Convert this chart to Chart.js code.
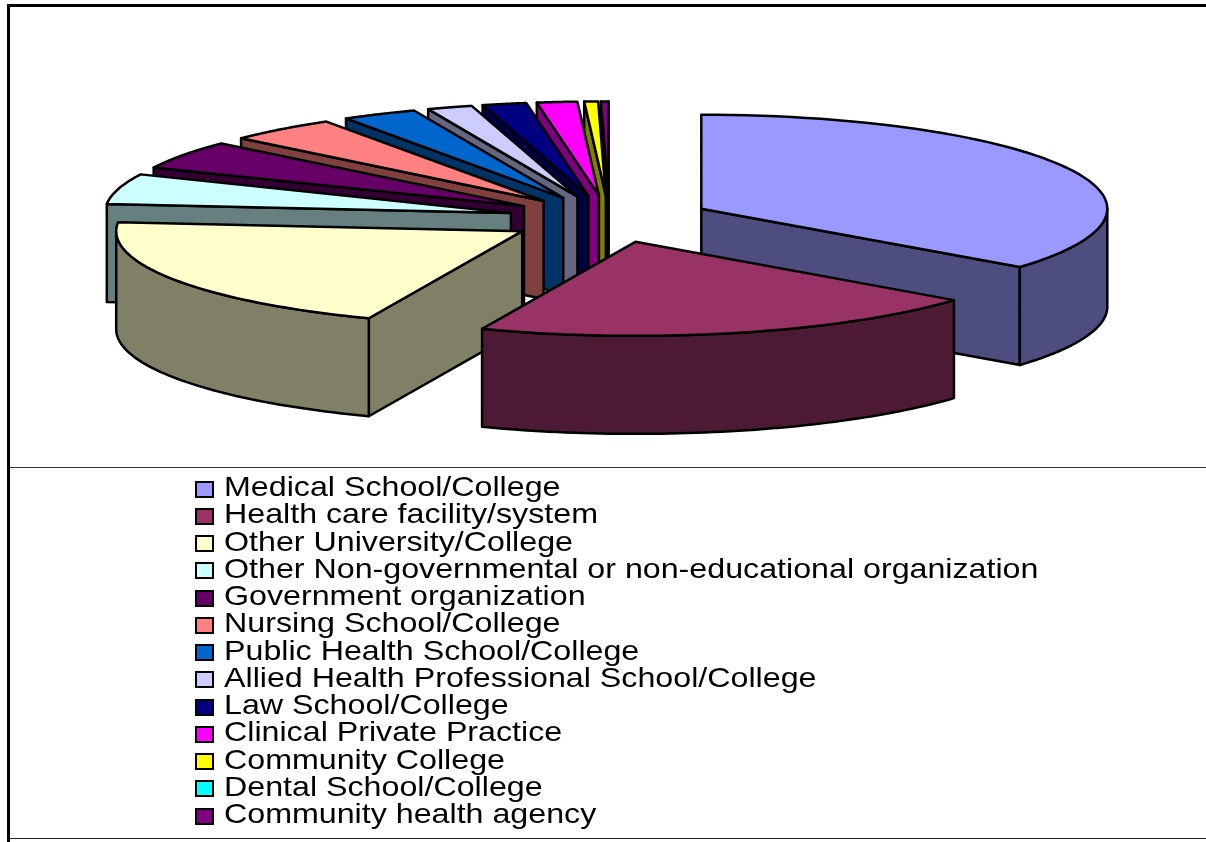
<!DOCTYPE html>
<html lang="en">
<head>
<meta charset="UTF-8">
<title>Organization types</title>
<script src="https://cdn.jsdelivr.net/npm/chart.js"></script>
<style>
    html,body{margin:0;background:#fff;overflow:hidden}
    #wrap{position:relative;width:1206px;height:842px}
    #pie{position:absolute;left:0;top:0}
    .rule{position:absolute;background:#000}
    #ruleLeft{left:7px;top:4px;width:3px;height:838px}
    #ruleTop{left:7px;top:4px;width:1199px;height:3px}
    #ruleMid{left:10px;top:467px;width:1196px;height:1px;background:#333}
    #ruleBottom{left:10px;top:838px;width:1196px;height:1px;background:#222}
    #legend{position:absolute;left:195px;top:475.5px;font-family:"Liberation Sans",Arial,sans-serif;font-size:28px;color:#000}
    .row{display:flex;align-items:center;height:27.25px;white-space:nowrap}
    .box{width:15px;height:13px;border:2px solid #000;flex:none}
    .row span{margin-left:10px;display:inline-block;transform:scaleX(1.15);transform-origin:left center;position:relative;top:-2px}
</style>
</head>
<body>
<div id="wrap">
    <canvas id="pie" width="1206" height="842"></canvas>
    <div class="rule" id="ruleLeft"></div>
    <div class="rule" id="ruleTop"></div>
    <div class="rule" id="ruleMid"></div>
    <div class="rule" id="ruleBottom"></div>
    <div id="legend"></div>
</div>
<script>
    const labels=["Medical School/College","Health care facility/system","Other University/College","Other Non-governmental or non-educational organization","Government organization","Nursing School/College","Public Health School/College","Allied Health Professional School/College","Law School/College","Clinical Private Practice","Community College","Dental School/College","Community health agency"]
    const shares=[35.7,20.55,20.4,5.2,4.9,4.4,3.0,1.8,1.75,1.6,0.55,0,0.3]
    const colors=["#9999FF","#993366","#FFFFCC","#CCFFFF","#660066","#FF8080","#0066CC","#CCCCFF","#000080","#FF00FF","#FFFF00","#00FFFF","#800080"]

    const squash=94/406
    const depth=98
    const explode=102

    function darker(hex){
        const n=parseInt(hex.slice(1),16)
        const half=v=>Math.round(v/2)
        return `rgb(${half(n>>16)},${half((n>>8)&255)},${half(n&255)})`
    }

    // the pie is flat in Chart.js, this plugin squashes it and adds the walls
    const pie3d={
        id:"pie3d",
        beforeDatasetsDraw(chart){
            const ctx=chart.ctx
            const arcs=chart.getDatasetMeta(0).data.map((arc,i)=>({arc,i})).filter(o=>o.arc.circumference>0)
            const midOf=a=>(a.startAngle+a.endAngle)/2
            arcs.sort((p,q)=>Math.sin(midOf(p.arc))-Math.sin(midOf(q.arc)))
            ctx.save()
            ctx.lineWidth=2.5
            ctx.lineJoin="round"
            ctx.strokeStyle="#000"
            arcs.forEach(({arc,i})=>{
                const mid=midOf(arc)
                const dx=explode*Math.cos(mid)
                const dy=explode*Math.sin(mid)
                const px=(a,r)=>arc.x+dx+r*Math.cos(a)
                const py=(a,r)=>arc.y+(dy+r*Math.sin(a))*squash
                const r=arc.outerRadius
                const a0=arc.startAngle
                const a1=arc.endAngle
                ctx.fillStyle=darker(colors[i])
                // cut faces
                const cut=a=>{
                    ctx.beginPath()
                    ctx.moveTo(px(a,0),py(a,0))
                    ctx.lineTo(px(a,r),py(a,r))
                    ctx.lineTo(px(a,r),py(a,r)+depth)
                    ctx.lineTo(px(a,0),py(a,0)+depth)
                    ctx.closePath()
                    ctx.fill()
                    ctx.stroke()
                }
                if(-Math.cos(a0)>0) cut(a0)
                if(Math.cos(a1)>0) cut(a1)
                // outer wall, front half only
                const from=Math.max(a0,0)
                const to=Math.min(a1,Math.PI)
                if(to>from){
                    ctx.beginPath()
                    ctx.moveTo(px(from,r),py(from,r))
                    for(let t=1;t<=60;t++){
                        const a=from+(to-from)*t/60
                        ctx.lineTo(px(a,r),py(a,r))
                    }
                    for(let t=60;t>=0;t--){
                        const a=from+(to-from)*t/60
                        ctx.lineTo(px(a,r),py(a,r)+depth)
                    }
                    ctx.closePath()
                    ctx.fill()
                    ctx.stroke()
                }
                // top face: the library's own arc under a squash transform
                ctx.save()
                ctx.translate(arc.x,arc.y)
                ctx.scale(1,squash)
                ctx.translate(dx-arc.x,dy-arc.y)
                arc.draw(ctx)
                ctx.restore()
                ctx.beginPath()
                ctx.moveTo(px(a0,0),py(a0,0))
                for(let t=0;t<=60;t++){
                    const a=a0+(a1-a0)*t/60
                    ctx.lineTo(px(a,r),py(a,r))
                }
                ctx.closePath()
                ctx.stroke()
            })
            ctx.restore()
            return false
        }
    }

    new Chart(document.getElementById("pie"),{
        type:"pie",
        data:{
            labels:labels,
            datasets:[{
                data:shares,
                backgroundColor:colors,
                borderWidth:0,
                radius:406
            }]
        },
        options:{
            responsive:false,
            animation:false,
            layout:{padding:{left:13,bottom:404}},
            plugins:{legend:{display:false},tooltip:{enabled:false}}
        },
        plugins:[pie3d]
    })

    const legend=document.getElementById("legend")
    labels.forEach((name,i)=>{
        const row=document.createElement("div")
        row.className="row"
        const box=document.createElement("div")
        box.className="box"
        box.style.background=colors[i]
        const text=document.createElement("span")
        text.textContent=name
        row.append(box,text)
        legend.append(row)
    })
</script>
</body>
</html>
